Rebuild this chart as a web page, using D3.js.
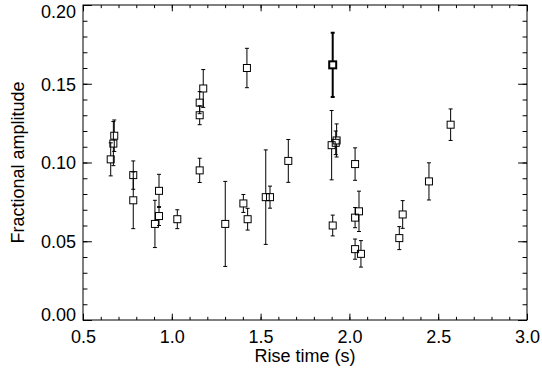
<!DOCTYPE html>
<html>
<head>
<meta charset="utf-8">
<script src="https://cdn.jsdelivr.net/npm/d3@7"></script>
<style>
  body { margin: 0; background: #fff; }
  text { font-family: "Liberation Sans", Arial, sans-serif; }
</style>
</head>
<body>
<div id="chart"></div>
<script>
// rise time (s), fractional amplitude and its 1-sigma error
var riseTime  = [0.656, 0.671, 0.676, 0.783, 0.783, 0.905, 0.928, 0.928, 1.031, 1.157,
                 1.157, 1.157, 1.177, 1.301, 1.403, 1.423, 1.427, 1.529, 1.553, 1.656,
                 1.900, 1.906, 1.906, 1.923, 1.928, 2.032, 2.032, 2.032, 2.054, 2.065,
                 2.281, 2.300, 2.448, 2.570];
var amplitude = [0.102, 0.112, 0.117, 0.092, 0.076, 0.061, 0.082, 0.066, 0.064, 0.095,
                 0.130, 0.138, 0.147, 0.061, 0.074, 0.160, 0.064, 0.078, 0.078, 0.101,
                 0.111, 0.060, 0.162, 0.1125, 0.114, 0.099, 0.065, 0.045, 0.069, 0.042,
                 0.052, 0.067, 0.088, 0.124];
var ampError  = [0.0105, 0.014, 0.010, 0.009, 0.018, 0.015, 0.0105, 0.006, 0.006, 0.0077,
                 0.006, 0.007, 0.012, 0.027, 0.0057, 0.0125, 0.0069, 0.030, 0.007, 0.0136,
                 0.022, 0.0066, 0.0204, 0.0075, 0.0105, 0.0103, 0.0064, 0.0064, 0.0128, 0.0084,
                 0.0073, 0.0088, 0.0118, 0.010];
var highlighted = [22];   // index of the point drawn with a heavy line

var xMajor = [0.5, 1.0, 1.5, 2.0, 2.5, 3.0];
var yMajor = [0.00, 0.05, 0.10, 0.15, 0.20];

var W = 542, H = 376;
var margin = {left: 83, right: 15, top: 5, bottom: 56};
var pw = W - margin.left - margin.right,
    ph = H - margin.top - margin.bottom;

var svg = d3.select('#chart').append('svg')
  .attr('width', W)
  .attr('height', H);

var g = svg.append('g')
  .attr('transform', 'translate(' + margin.left + ',' + margin.top + ')');

var x = d3.scaleLinear().domain([0.5, 3.0]).range([0, pw]);
var y = d3.scaleLinear().domain([0, 0.2]).range([ph, 0]);

var xTick = 0.02 * ph, yTick = 0.02 * pw;
var xMinor = d3.range(0.5, 3.0001, 0.1);
var yMinor = d3.range(0, 0.2001, 0.01);

function styleAxis(sel) {
  sel.select('.domain').remove();
  sel.selectAll('line').attr('stroke', '#000').attr('stroke-width', 1);
  sel.selectAll('text').style('font-size', '18px').attr('fill', '#000');
}

// minor ticks on all four sides
g.append('g').attr('transform', 'translate(0,' + ph + ')')
  .call(d3.axisBottom(x).tickValues(xMinor).tickSize(-xTick / 2).tickFormat(''))
  .call(styleAxis);
g.append('g')
  .call(d3.axisTop(x).tickValues(xMinor).tickSize(-xTick / 2).tickFormat(''))
  .call(styleAxis);
g.append('g')
  .call(d3.axisLeft(y).tickValues(yMinor).tickSize(-yTick / 2).tickFormat(''))
  .call(styleAxis);
g.append('g').attr('transform', 'translate(' + pw + ',0)')
  .call(d3.axisRight(y).tickValues(yMinor).tickSize(-yTick / 2).tickFormat(''))
  .call(styleAxis);

// major ticks
g.append('g').attr('transform', 'translate(0,' + ph + ')')
  .call(d3.axisBottom(x).tickValues(xMajor).tickSize(-xTick).tickPadding(10).tickFormat(d3.format('.1f')))
  .call(styleAxis);
g.append('g')
  .call(d3.axisTop(x).tickValues(xMajor).tickSize(-xTick).tickFormat(''))
  .call(styleAxis);
var yAx = g.append('g')
  .call(d3.axisLeft(y).tickValues(yMajor).tickSize(-yTick).tickPadding(7).tickFormat(d3.format('.2f')))
  .call(styleAxis);
yAx.selectAll('text').attr('dy', function (d) {
  if (d === 0) return '0';
  if (d === 0.2) return '0.68em';
  return '0.35em';
});
g.append('g').attr('transform', 'translate(' + pw + ',0)')
  .call(d3.axisRight(y).tickValues(yMajor).tickSize(-yTick).tickFormat(''))
  .call(styleAxis);

// frame
g.append('rect')
  .attr('width', pw).attr('height', ph)
  .attr('fill', 'none').attr('stroke', '#000').attr('stroke-width', 1);

// axis titles
svg.append('text')
  .attr('x', margin.left + pw / 2)
  .attr('y', 362)
  .attr('text-anchor', 'middle')
  .style('font-size', '18px')
  .text('Rise time (s)');
svg.append('text')
  .attr('transform', 'translate(24,' + (margin.top + ph / 2) + ') rotate(-90)')
  .attr('text-anchor', 'middle')
  .style('font-size', '18px')
  .text('Fractional amplitude');

// data
var data = riseTime.map(function (d, i) {
  return {x: d, y: amplitude[i], e: ampError[i], bold: highlighted.indexOf(i) >= 0};
});
var half = 3.5, cap = 2;

var pts = g.append('g').selectAll('.pt')
  .data(data)
  .enter().append('g')
  .attr('class', 'pt')
  .attr('stroke', '#000')
  .attr('fill', 'none')
  .attr('stroke-width', function (d) { return d.bold ? 2 : 1; });

pts.append('path')
  .attr('d', function (d) {
    var cx = x(d.x), cy = y(d.y), y0 = y(d.y + d.e), y1 = y(d.y - d.e);
    var p = '';
    if (y0 < cy - half) p += 'M' + cx + ',' + (cy - half) + 'V' + y0 + 'M' + (cx - cap) + ',' + y0 + 'H' + (cx + cap);
    if (y1 > cy + half) p += 'M' + cx + ',' + (cy + half) + 'V' + y1 + 'M' + (cx - cap) + ',' + y1 + 'H' + (cx + cap);
    return p;
  });

pts.append('rect')
  .attr('x', function (d) { return x(d.x) - half; })
  .attr('y', function (d) { return y(d.y) - half; })
  .attr('width', half * 2)
  .attr('height', half * 2);
</script>
</body>
</html>
